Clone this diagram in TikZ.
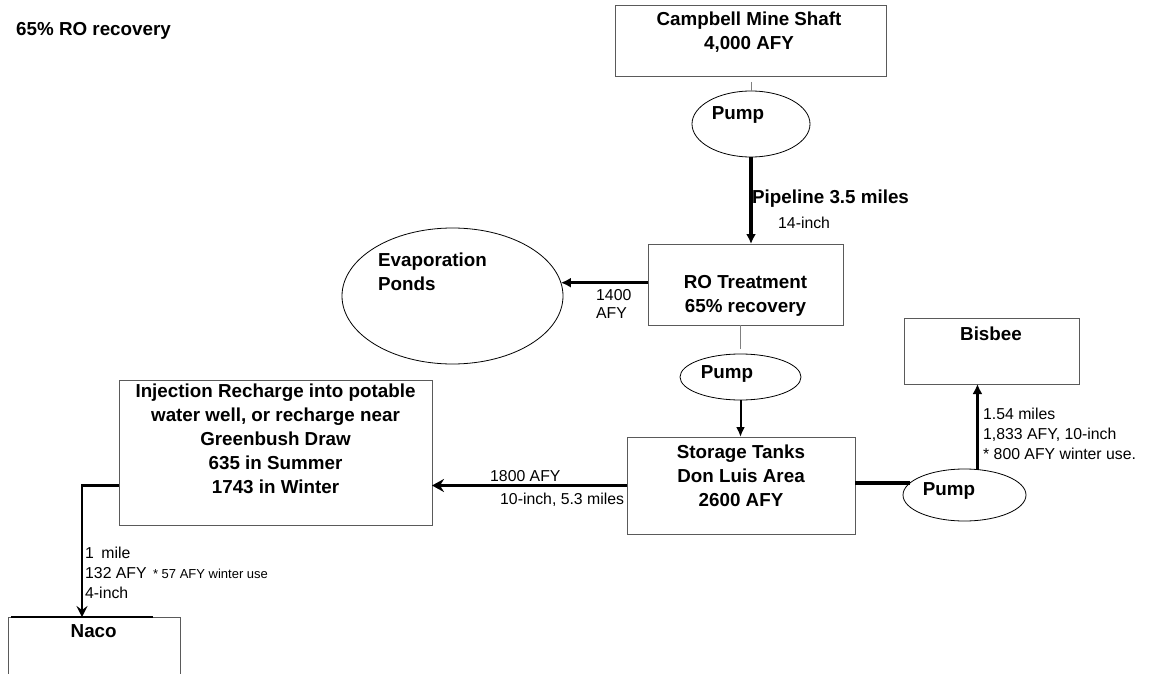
\documentclass[tikz,border=0pt]{standalone}
\usepackage{fontspec}
\setmainfont{Liberation Sans}
\usetikzlibrary{shapes.geometric,arrows.meta}
\definecolor{boxgray}{HTML}{5A5A5A}
\definecolor{linegray}{HTML}{808080}
\newcommand\SB{\rule{0pt}{14pt}}
\newcommand\SR{\rule{0pt}{12pt}}
\begin{document}
\begin{tikzpicture}[x=1pt,y=-1pt,
  box/.style={draw=boxgray, line width=1pt, rectangle, inner sep=0pt, outer sep=0pt},
  oval/.style={draw=black, line width=0.8pt, ellipse, inner sep=0pt, outer sep=0pt},
  btxt/.style={font=\bfseries\fontsize{18.8}{24}\selectfont, inner sep=0pt, align=center},
  rtxt/.style={font=\fontsize{15.8}{20}\selectfont, inner sep=0pt, align=left},
  gline/.style={draw=linegray, line width=1pt},
  pipe/.style={line width=4.5pt, -{Latex[length=10pt,width=10pt]}},
  flowA/.style={line width=3pt, -{Latex[length=10pt,width=10pt]}},
  flowB/.style={line width=2pt, -{Latex[length=10pt,width=9pt]}},
  flowS/.style={line width=3pt, -{Stealth[length=12pt,width=13pt,inset=4pt]}},
  flowN/.style={line width=2pt, -{Stealth[length=11pt,width=11pt,inset=4pt]}},
  heavy/.style={line width=4pt}]
\useasboundingbox (0,0) rectangle (1149,674);
\clip (0,0) rectangle (1149,674);

% boxes
\node[box, minimum width=271pt, minimum height=71pt] (camp) at (750.5,41.5) {};
\node[box, minimum width=195pt, minimum height=81pt] (ro) at (745.5,284.5) {};
\node[box, minimum width=228pt, minimum height=97pt] (storage) at (741,485.5) {};
\node[box, minimum width=175pt, minimum height=66pt] (bisbee) at (991.5,351) {};
\node[box, minimum width=313pt, minimum height=145pt] (inj) at (275.5,452.5) {};
\node[box, minimum width=172pt, minimum height=100pt] (naco) at (94,667) {};
\draw[line width=2pt] ([xshift=3pt]naco.north west) -- ([xshift=-27pt]naco.north east);

% ellipses
\node[oval, minimum width=118pt, minimum height=66pt] (pump1) at (751,124) {};
\node[oval, minimum width=221pt, minimum height=136pt] (evap) at (452.5,296) {};
\node[oval, minimum width=121pt, minimum height=46pt] (pump2) at (740.5,377) {};
\node[oval, minimum width=123pt, minimum height=52pt] (pump3) at (964.5,495) {};

% texts
\node[btxt, anchor=north west] (title) at (16,21) {\SB 65\% RO recovery};
\node[btxt, anchor=north] (campt) at (749,11) {\SB Campbell Mine Shaft\\4,000 AFY};
\node[btxt, anchor=north] (pump1t) at (738,105) {\SB Pump};
\node[btxt, anchor=north west] (pipet) at (752,189) {\SB Pipeline 3.5 miles};
\node[rtxt, anchor=north west] (inch14) at (778,216) {\SR 14-inch};
\node[btxt, anchor=north] (rot) at (745.5,274) {\SB RO Treatment\\65\% recovery};
\node[btxt, anchor=north west, align=left] (evapt) at (378,252) {\SB Evaporation\\Ponds};
\node[rtxt, anchor=north west, font=\fontsize{15.8}{18}\selectfont] (evapq) at (596,288) {\SR 1400\\AFY};
\node[btxt, anchor=north] (pump2t) at (727,364) {\SB Pump};
\node[btxt, anchor=north] (storaget) at (741,444) {\SB Storage Tanks\\Don Luis Area\\2600 AFY};
\node[btxt, anchor=north] (pump3t) at (949,481) {\SB Pump};
\node[btxt, anchor=north] (bisbeet) at (991,326) {\SB Bisbee};
\node[rtxt, anchor=north west] (bisbeeq) at (983,407) {\SR 1.54 miles\\1,833 AFY, 10-inch\\* 800 AFY winter use.};
\node[btxt, anchor=north] (injt) at (275.5,383) {\SB Injection Recharge into potable\\water well, or recharge near\\Greenbush Draw\\635 in Summer\\1743 in Winter};
\node[rtxt, anchor=north west] (injq) at (490,469) {\SR 1800 AFY};
\node[rtxt, anchor=north west] (injp) at (500,492) {\SR 10-inch, 5.3 miles};
\node[btxt, anchor=north] (nacot) at (93.7,623) {\SB Naco};
\node[rtxt, anchor=north west] (nacoq) at (85,546) {\SR 1\hspace{3pt} mile\\132 AFY\hspace{2pt} {\fontsize{13}{20}\selectfont * 57 AFY winter use}\\4-inch};

% connectors
\draw[gline, shorten <=5pt] (camp.south -| pump1.north) -- (pump1.north);
\draw[pipe] (pump1.south) -- (pump1.south |- ro.north);
\draw[flowA] (evap.7.4 -| ro.west) -- (evap.7.4);
\draw[gline, shorten >=5pt] (ro.south -| pump2.north) -- (pump2.north);
\draw[flowB] (pump2.south) -- (pump2.south |- storage.north);
\draw[heavy] (pump3.168.8 -| storage.east) -- (pump3.168.8);
\draw[flowS] (storage.west) -- (storage.west -| inj.east);
\draw[flowA] (pump3.63.9) -- (pump3.63.9 |- bisbee.south);
\coordinate (bend) at (82,485);
\draw[line width=3pt] (bend -| inj.west) -- ([xshift=-1pt]bend);
\draw[flowN] (bend) -- (bend |- naco.north);
\end{tikzpicture}
\end{document}
